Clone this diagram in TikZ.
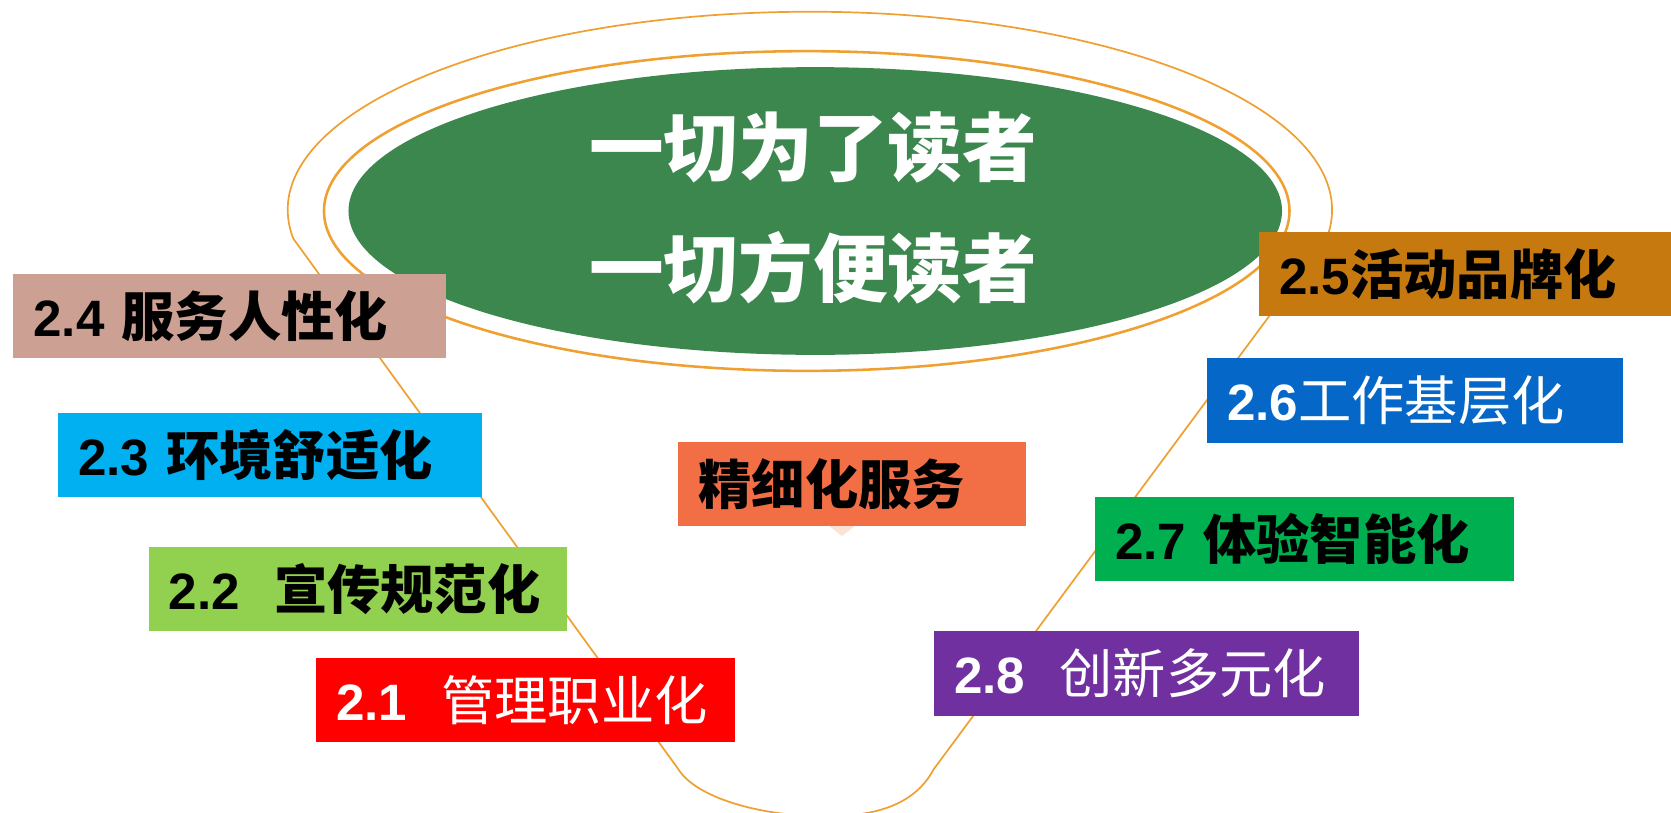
\documentclass[tikz,border=0pt]{standalone}
\usepackage{fontspec}
\setmainfont{Liberation Sans}
\newfontfamily\cjk{Noto Sans CJK SC}
\usetikzlibrary{shapes.geometric}
\definecolor{funnelor}{HTML}{F0A030}
\definecolor{coregreen}{HTML}{3B874E}
\definecolor{cA}{HTML}{CCA193}
\definecolor{cB}{HTML}{00B0F0}
\definecolor{cC}{HTML}{92D050}
\definecolor{cD}{HTML}{FF0000}
\definecolor{cE}{HTML}{F26E45}
\definecolor{cF}{HTML}{C5790F}
\definecolor{cG}{HTML}{0568C8}
\definecolor{cH}{HTML}{00B050}
\definecolor{cI}{HTML}{7030A0}
\definecolor{peach}{HTML}{FBE3D4}
\newcommand\cjkb{\cjk\bfseries\fontsize{25pt}{28pt}\selectfont}
\newcommand\cjkr{\cjk\fontsize{25pt}{28pt}\selectfont}
\tikzset{
  tagbox/.style={anchor=north west, inner xsep=9.5pt, inner ysep=0pt,
    minimum height=39.5pt, align=left,
    font=\fontsize{24pt}{28pt}\selectfont},
  darktxt/.style={text=black},
  lighttxt/.style={text=white},
  funnelline/.style={draw=funnelor, line width=0.8pt},
  ringline/.style={draw=funnelor, line width=1.2pt, fill=white},
  titletxt/.style={text=white, font=\cjk\bfseries\fontsize{35pt}{40pt}\selectfont}
}
\begin{document}
\begin{tikzpicture}[x=0.5pt,y=0.5pt]
\useasboundingbox (0,0) rectangle (1568,762);
\fill[white] (0,0) rectangle (1568,762);
% funnel outline
\draw[funnelline] (760,565) ++(188.3:490 and 186)
  arc[start angle=188.3, end angle=-8.3, x radius=490, y radius=186]
  -- (876,40) .. controls (858,6) and (820,-4) .. (775,-4)
  .. controls (712,-4) and (652,14) .. (636,41) -- cycle;
% ring and core
\node (ring) [ellipse, ringline, minimum width=453pt, minimum height=150pt, inner sep=0pt] at (757,564) {};
\node (core) [ellipse, fill=coregreen, minimum width=438pt, minimum height=135pt, inner sep=0pt] at (765,564) {};
\node (t1) [titletxt] at (763,624) {一切为了读者};
\node (t2) [titletxt] at (763,511) {一切方便读者};
% pointer
\fill[peach] (776,270) -- (804,270) -- (790,259) -- cycle;
% boxes
\node (b24) [tagbox, darktxt, fill=cA, text width=184pt] at (12,505) {\textbf{2.4} {\cjkb 服务人性化}};
\node (b23) [tagbox, darktxt, fill=cB, text width=180pt] at (54,375) {\textbf{2.3} {\cjkb 环境舒适化}};
\node (b22) [tagbox, darktxt, fill=cC, text width=177.5pt] at (139,249) {\textbf{2.2}\ \ {\cjkb 宣传规范化}};
\node (b21) [tagbox, lighttxt, fill=cD, text width=177.5pt] at (296,145) {\textbf{2.1}\ \ {\cjkr 管理职业化}};
\node (bj) [tagbox, darktxt, fill=cE, text width=144pt] at (636,348) {{\cjkb 精细化服务}};
\node (b25) [tagbox, darktxt, fill=cF, text width=174.5pt] at (1181,545) {\textbf{2.5}{\cjkb 活动品牌化}};
\node (b26) [tagbox, lighttxt, fill=cG, text width=176.5pt] at (1132,426) {\textbf{2.6}{\cjkr 工作基层化}};
\node (b27) [tagbox, darktxt, fill=cH, text width=177.5pt] at (1027,296) {\textbf{2.7} {\cjkb 体验智能化}};
\node (b28) [tagbox, lighttxt, fill=cI, text width=180.5pt] at (876,170) {\textbf{2.8}\ \ {\cjkr 创新多元化}};
\end{tikzpicture}
\end{document}
